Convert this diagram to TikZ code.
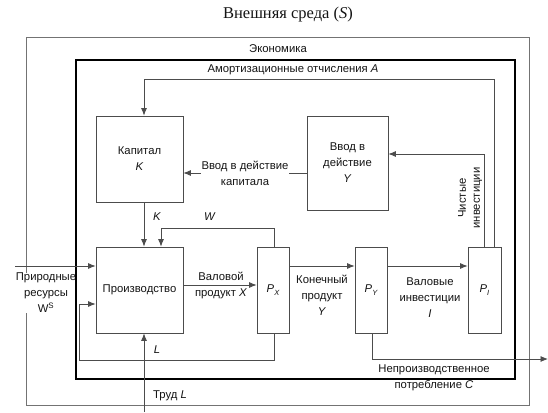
\documentclass[tikz,border=0pt]{standalone}
\usepackage{fontspec}
\setmainfont{Liberation Sans}
\newfontfamily\titlefont{Liberation Serif}
\usetikzlibrary{arrows.meta,calc}
\newcommand\psub[1]{\textit{P}\raisebox{-0.45ex}{\fontsize{7.5}{8}\selectfont\itshape #1}}
\begin{document}
\begin{tikzpicture}[x=1pt,y=-1pt,
  every node/.style={font=\fontsize{11.3}{16}\selectfont, text=black!92},
  blk/.style={draw=black!70, line width=0.8pt, rectangle, inner sep=0pt, align=center},
  conn/.style={draw=black!70, line width=0.8pt},
  arr/.style={conn, -{Latex[length=7.5pt,width=6pt]}},
  lbl/.style={align=center, inner sep=1pt}
]
\useasboundingbox (0,0) rectangle (548,412);
\fill[white] (0,0) rectangle (548,412);

% outer environment box
\draw[draw=black!55, line width=0.8pt] (26,37) rectangle (529,405);
\node[lbl] (title) at (288,15) {\titlefont\fontsize{16.5}{17}\selectfont Внешняя среда ({\itshape S})};
\node[lbl] (econ) at (278,49) {Экономика};

% natural resources label covering the outer edge
\node[lbl, fill=white, inner sep=0pt] (natlbl) at (46,293) {Природные\\ресурсы\\W\textsuperscript{S}};

% thick economy box
\draw[black, line width=2.5pt] (76,60) rectangle (515,379);
\node[lbl] (amlbl) at (293,70) {Амортизационные отчисления \textit{A}};

% blocks
\node[blk, minimum width=87pt, minimum height=86pt] (kap) at (139.5,159) {Капитал\\\textit{K}};
\node[blk, minimum width=81pt, minimum height=94pt] (ybox) at (347.5,163) {Ввод в\\действие\\\textit{Y}};
\node[blk, minimum width=87pt, minimum height=86pt] (prod) at (139.5,290) {Производство};
\node[blk, minimum width=32pt, minimum height=86pt] (px) at (273,290) {\psub{X}};
\node[blk, minimum width=32pt, minimum height=86pt] (py) at (371,290) {\psub{Y}};
\node[blk, minimum width=33pt, minimum height=86pt] (pi) at (484.5,290) {\psub{I}};

% free ends
\coordinate (natstart) at (15,266);
\coordinate (trudstart) at (144,412);
\coordinate (cend) at (548,359);

% connectors
\draw[arr] ([xshift=9.5pt]pi.north) |- ($(kap.north)+(4.5,-36)$) -- ([xshift=4.5pt]kap.north);
\draw[arr] ([xshift=-0.5pt]pi.north) |- ($(ybox.east)+(0,-9)$);
\draw[arr] ($(ybox.west)+(0,10)$) -- ($(kap.east)+(0,14)$)
  node[midway, fill=white, align=center, inner sep=1pt] (vvlbl) {Ввод в действие\\капитала};
\draw[arr] ([xshift=4.5pt]kap.south) -- ([xshift=4.5pt]prod.north);
\draw[arr] ([xshift=1pt]px.north) |- ($(prod.north)+(21.5,-18)$) -- ([xshift=21.5pt]prod.north);
\draw[arr] ($(prod.east)+(0,-5)$) -- ($(px.west)+(0,-5)$);
\draw[arr] ($(px.east)+(0,-24)$) -- ($(py.west)+(0,-24)$);
\draw[arr] ($(py.east)+(0,-24)$) -- ($(pi.west)+(0,-24)$);
\draw[arr] ([xshift=1pt]px.south) -- ++(0,27) -| ($(prod.west)+(-16,14)$) -- ($(prod.west)+(0,14)$);
\draw[arr] ([xshift=1pt]py.south) |- (cend);
\draw[arr] (trudstart) -- ([xshift=4.5pt]prod.south);
\draw[arr] (natstart) -- (prod.west |- natstart);

% labels
\node[lbl] (klbl) at (157,217) {\textit{K}};
\node[lbl] (wlbl) at (210,217) {\textit{W}};
\node[lbl] (llbl) at (157,350) {\textit{L}};
\node[lbl, anchor=west] (trudlbl) at (152,396) {Труд \textit{L}};
\node[lbl] (vplbl) at (221,285) {Валовой\\продукт \textit{X}};
\node[lbl] (kplbl) at (322,295) {Конечный\\продукт\\\textit{Y}};
\node[lbl] (vilbl) at (430,298) {Валовые\\инвестиции\\\textit{I}};
\node[lbl, rotate=90, font=\fontsize{11.3}{14}\selectfont] (cilbl) at (470,198) {Чистые\\инвестиции};
\node[lbl] (nplbl) at (434,378) {Непроизводственное\\потребление \textit{C}};
\end{tikzpicture}
\end{document}
